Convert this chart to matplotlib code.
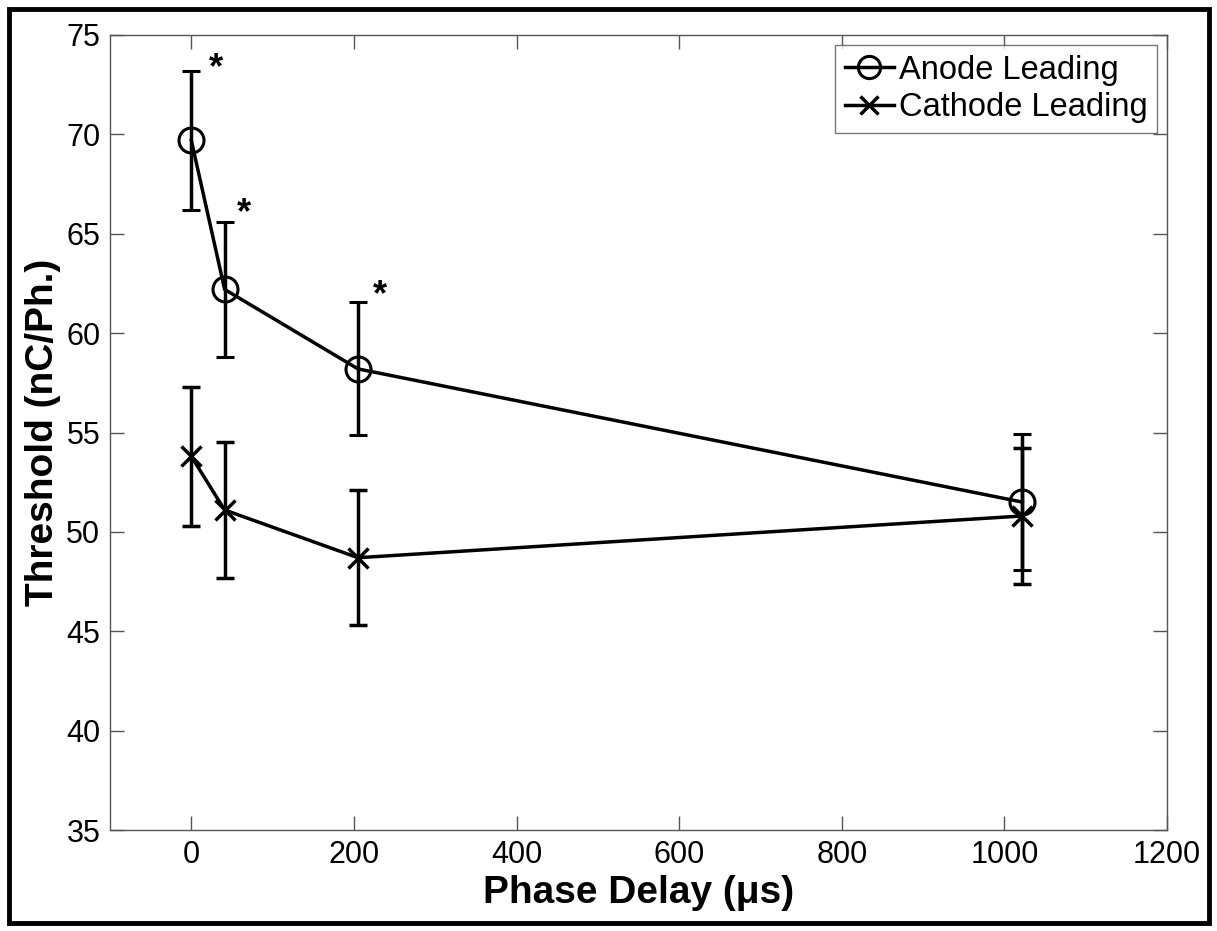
import matplotlib
matplotlib.use("Agg")
import matplotlib.pyplot as plt
from matplotlib.patches import Rectangle
from matplotlib.lines import Line2D

plt.rcParams['font.family'] = ['Liberation Sans', 'DejaVu Sans']

phase_delay = [0, 41, 205, 1022]
anode_mean = [69.7, 62.2, 58.2, 51.5]
anode_err = [3.5, 3.4, 3.35, 3.4]
cathode_mean = [53.8, 51.1, 48.7, 50.8]
cathode_err = [3.5, 3.4, 3.4, 3.4]
sig_x = [30, 65, 232]
sig_y = [73.3, 66.0, 61.9]

fig = plt.figure(figsize=(12.17, 9.31), dpi=100)
ax = fig.add_axes([110/1217, 1-830/931, (1167-110)/1217, (830-35)/931])

ax.errorbar(phase_delay, anode_mean, yerr=anode_err, color='black', lw=2.5,
            marker='o', ms=18, mfc='none', mew=2.2, capsize=6.5, capthick=2.5,
            elinewidth=2.5)
ax.errorbar(phase_delay, cathode_mean, yerr=cathode_err, color='black', lw=2.5,
            marker='x', ms=14, mew=2.5, capsize=6.5, capthick=2.5,
            elinewidth=2.5)
for sx, sy in zip(sig_x, sig_y):
    ax.text(sx, sy, '*', fontsize=26, fontweight='bold', ha='center', va='center')

ax.set_xlim(-100, 1200)
ax.set_ylim(35, 75)
ax.set_xticks([0, 200, 400, 600, 800, 1000, 1200])
ax.set_yticks([35, 40, 45, 50, 55, 60, 65, 70, 75])
ax.tick_params(direction='in', length=10, width=1, top=True, right=True,
               labelsize=22, color='#555555', pad=7)
for s in ax.spines.values():
    s.set_linewidth(1.0)
    s.set_color('#555555')
ax.set_xlabel('Phase Delay (\u03bcs)', fontsize=28, fontweight='bold', labelpad=4)
ax.set_ylabel('Threshold (nC/Ph.)', fontsize=28, fontweight='bold', labelpad=4)

handles = [Line2D([], [], color='black', lw=2.5, marker='o', ms=16, mfc='none', mew=2.2),
           Line2D([], [], color='black', lw=2.5, marker='x', ms=13, mew=2.5)]
leg = ax.legend(handles, ['Anode Leading', 'Cathode Leading'], loc='upper right',
                fontsize=23.5, frameon=True, fancybox=False,
                edgecolor='#555555', handlelength=1.5, handletextpad=0.15,
                borderpad=0.3, labelspacing=0.2, borderaxespad=0.3)
leg.get_frame().set_linewidth(1.0)

fig.patches.append(Rectangle((9/1217, 1-923/931), (1209-9)/1217, (923-9)/931,
                             transform=fig.transFigure, fill=False,
                             edgecolor='black', lw=3.5))

fig.savefig('out.png', dpi=100, facecolor='white')
